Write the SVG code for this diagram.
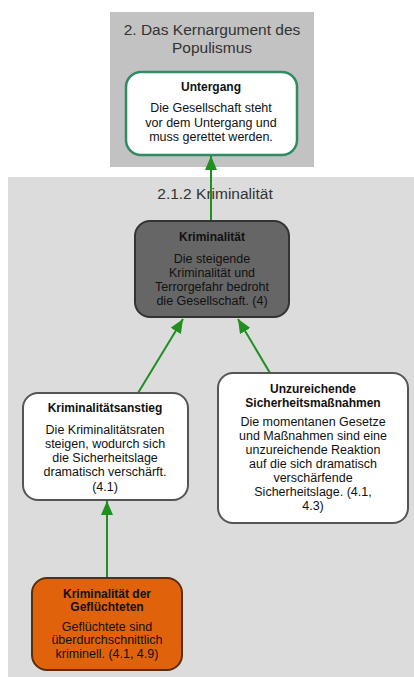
<svg xmlns="http://www.w3.org/2000/svg" width="414" height="677" viewBox="0 0 414 677">
<defs>
<style>
text{font-family:"Liberation Sans",Arial,sans-serif;text-anchor:middle;fill:#111}
.cl{font-size:15.5px;fill:#333}
.t{font-size:12px;font-weight:bold}
.b{font-size:12.5px}
.edge{stroke:#1f8f1f;stroke-width:2;fill:none}
.node{stroke:#555;stroke-width:2}
</style>
<marker id="ah" viewBox="0 0 14 12" refX="14" refY="6" markerWidth="14" markerHeight="12" markerUnits="userSpaceOnUse" orient="auto">
<path d="M0,0 L14,6 L0,12 z" fill="#1f8f1f"/>
</marker>
</defs>
<rect width="414" height="677" fill="#fff"/>
<g id="cluster-kern">
<rect x="110" y="12" width="204" height="155" fill="#c2c2c2"/>
<text class="cl" x="212" y="35">2. Das Kernargument des</text>
<text class="cl" x="212" y="53">Populismus</text>
</g>
<g id="cluster-krim">
<rect x="8" y="177" width="406" height="500" fill="#dcdcdc"/>
<text class="cl" x="215" y="199">2.1.2 Kriminalität</text>
</g>
<g id="connectors">
<line class="edge" x1="211" y1="221" x2="211" y2="156" marker-end="url(#ah)"/>
<line class="edge" x1="138" y1="393" x2="183" y2="319" marker-end="url(#ah)"/>
<line class="edge" x1="270" y1="373" x2="238" y2="319" marker-end="url(#ah)"/>
<line class="edge" x1="107" y1="578" x2="107" y2="501" marker-end="url(#ah)"/>
</g>
<g id="untergang">
<rect x="126" y="72" width="171" height="83" rx="15" fill="#fff" stroke="#2e8b62" stroke-width="2.5"/>
<text class="t" x="211" y="91">Untergang</text>
<text class="b" x="211" y="112">Die Gesellschaft steht</text>
<text class="b" x="211" y="127">vor dem Untergang und</text>
<text class="b" x="211" y="141">muss gerettet werden.</text>
</g>
<g id="kriminalitaet">
<rect x="135" y="221" width="154" height="96" rx="15" fill="#666" stroke="#333" stroke-width="2"/>
<text class="t" x="212" y="241">Kriminalität</text>
<text class="b" x="212" y="263">Die steigende</text>
<text class="b" x="212" y="277">Kriminalität und</text>
<text class="b" x="212" y="291">Terrorgefahr bedroht</text>
<text class="b" x="212" y="305">die Gesellschaft. (4)</text>
</g>
<g id="anstieg">
<rect x="23" y="393" width="165" height="107" rx="15" fill="#fff" class="node"/>
<text class="t" x="105" y="412">Kriminalitätsanstieg</text>
<text class="b" x="105" y="434">Die Kriminalitätsraten</text>
<text class="b" x="105" y="448">steigen, wodurch sich</text>
<text class="b" x="105" y="462">die Sicherheitslage</text>
<text class="b" x="105" y="476">dramatisch verschärft.</text>
<text class="b" x="105" y="491">(4.1)</text>
</g>
<g id="unzureichend">
<rect x="218" y="373" width="190" height="150" rx="15" fill="#fff" class="node"/>
<text class="t" x="313" y="393">Unzureichende</text>
<text class="t" x="313" y="407">Sicherheitsmaßnahmen</text>
<text class="b" x="313" y="426">Die momentanen Gesetze</text>
<text class="b" x="313" y="440">und Maßnahmen sind eine</text>
<text class="b" x="313" y="454">unzureichende Reaktion</text>
<text class="b" x="313" y="468">auf die sich dramatisch</text>
<text class="b" x="313" y="482">verschärfende</text>
<text class="b" x="313" y="496">Sicherheitslage. (4.1,</text>
<text class="b" x="313" y="510">4.3)</text>
</g>
<g id="gefluechtete">
<rect x="32" y="578" width="150" height="92" rx="15" fill="#e0620a" stroke="#5a2d0c" stroke-width="2"/>
<text class="t" x="107" y="598">Kriminalität der</text>
<text class="t" x="107" y="611">Geflüchteten</text>
<text class="b" x="107" y="631">Geflüchtete sind</text>
<text class="b" x="107" y="644">überdurchschnittlich</text>
<text class="b" x="107" y="658">kriminell. (4.1, 4.9)</text>
</g>
</svg>
